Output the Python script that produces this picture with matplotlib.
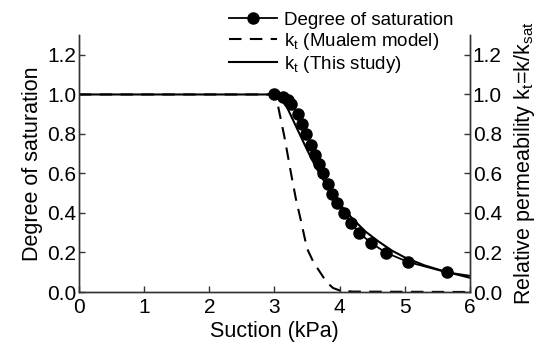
import numpy as np
import matplotlib
matplotlib.use("Agg")
import matplotlib.pyplot as plt

plt.rcParams['font.family'] = ['Liberation Sans', 'DejaVu Sans']
plt.rcParams['mathtext.default'] = 'regular'
plt.rcParams['lines.scale_dashes'] = False

# measured degree of saturation
suction_sat = [2.99, 3.135, 3.21, 3.26, 3.365, 3.43, 3.49, 3.555, 3.62, 3.68, 3.75,
               3.825, 3.88, 3.96, 4.06, 4.17, 4.30, 4.475, 4.71, 5.05, 5.64, 6.0]
saturation = [1.0, 0.989, 0.97, 0.952, 0.90, 0.85, 0.80, 0.745, 0.694, 0.647, 0.60,
              0.547, 0.496, 0.449, 0.398, 0.35, 0.30, 0.25, 0.199, 0.152, 0.10, 0.082]

# k_t from Mualem model
suction_mualem = [0.0, 3.0, 3.05, 3.1, 3.15, 3.2, 3.26, 3.33, 3.4, 3.5, 3.6, 3.7,
                  3.8, 3.9, 4.0, 4.2, 6.0]
kt_mualem = [1.0, 1.0, 0.95, 0.87, 0.79, 0.70, 0.59, 0.47, 0.37, 0.22, 0.15, 0.10,
             0.05, 0.02, 0.008, 0.002, 0.0]

# k_t from this study
suction_kt = [0.0, 3.0, 3.1, 3.2, 3.3, 3.4, 3.5, 3.6, 3.7, 3.8, 3.9, 4.0, 4.2, 4.4,
              4.6, 4.8, 5.0, 5.3, 5.6, 6.0]
kt_study = [1.0, 1.0, 0.98, 0.93, 0.86, 0.79, 0.72, 0.655, 0.595, 0.54, 0.49, 0.445,
            0.37, 0.305, 0.255, 0.21, 0.175, 0.135, 0.105, 0.072]

fig = plt.figure(figsize=(5.44, 3.47), dpi=100)
ax = fig.add_axes([0.145, 0.1585, 0.719, 0.74])
ax2 = ax.twinx()

l1, = ax.plot(suction_sat, saturation, color='black', lw=1.3, marker='o', ms=8,
              markevery=list(range(len(suction_sat) - 1)))
l2, = ax.plot(suction_mualem, kt_mualem, color='black', lw=1.5, dashes=(9, 6))
l3, = ax.plot(suction_kt, kt_study, color='black', lw=1.5)

for a in (ax, ax2):
    a.set_xlim(0, 6)
    a.set_ylim(0, 1.3)
    a.set_yticks(np.arange(0, 1.21, 0.2))
    a.set_yticklabels(['%.1f' % v for v in np.arange(0, 1.21, 0.2)])
    a.tick_params(direction='in', length=4, width=1, labelsize=15, pad=2, color='#333333')
    a.spines['top'].set_visible(False)
    for s in a.spines.values():
        s.set_color('#333333')
        s.set_linewidth(1)

ax.set_xticks(range(7))
ax.tick_params(axis='x', pad=4)
ax.set_xlabel('Suction (kPa)', fontsize=15.5, labelpad=3)
ax.set_ylabel('Degree of saturation', fontsize=15.5, labelpad=3)
ax2.set_ylabel('Relative permeability $k_t$=k/$k_{sat}$', fontsize=15.5, labelpad=7)

fig.legend([l1, l2, l3],
           ['Degree of saturation', '$k_t$ (Mualem model)', '$k_t$ (This study)'],
           loc='upper left', bbox_to_anchor=(0.396, 1.005), frameon=False, fontsize=13.5,
           handlelength=2.6, handletextpad=0.35, labelspacing=0.12, borderpad=0.2)

fig.savefig('out.png', dpi=100)
